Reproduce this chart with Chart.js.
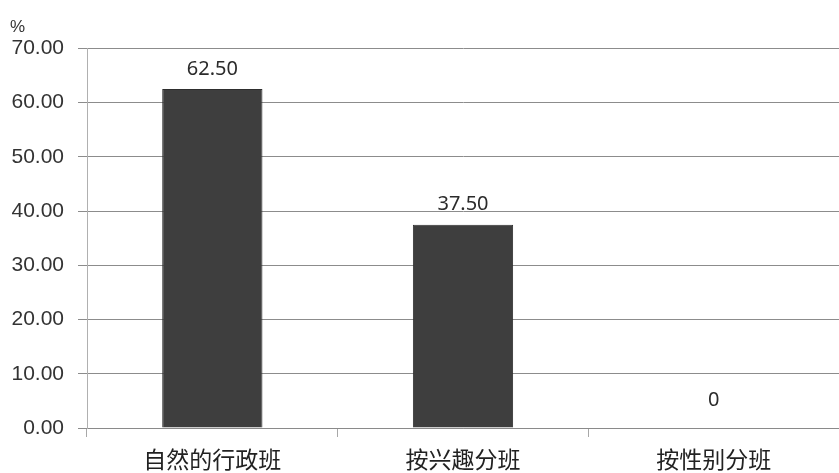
<!DOCTYPE html>
<html>
<head>
<meta charset="utf-8">
<script src="https://cdn.jsdelivr.net/npm/chart.js@4/dist/chart.umd.min.js"></script>
<style>
  html, body { margin: 0; padding: 0; background: #fff; }
  #wrap { width: 839px; height: 473px; }
</style>
</head>
<body>
<div id="wrap"><canvas id="barChart" width="839" height="473"></canvas></div>
<script>
// 📊 DATA
const categories = ["自然的行政班", "按兴趣分班", "按性别分班"];
const percentValues = [62.5, 37.5, 0];
const yMin = 0;
const yMax = 70;
const yStep = 10;

// 🏷️ VALUE LABELS ABOVE BARS
const valueLabels = {
  id: "valueLabels",
  afterDatasetsDraw(chart) {
    let ctx = chart.ctx;
    let meta = chart.getDatasetMeta(0);
    ctx.save();
    ctx.font = "20px 'Noto Sans', sans-serif";
    ctx.fillStyle = "#2b2b2b";
    ctx.textAlign = "center";
    ctx.textBaseline = "bottom";
    meta.data.forEach((bar, i) => {
      let v = percentValues[i];
      let txt = v === 0 ? "0" : v.toFixed(2);
      let gap = v === 0 ? 18 : 10;
      ctx.fillText(txt, bar.x, bar.y - gap);
    });
    ctx.restore();
  }
};

let ctx = document.getElementById("barChart").getContext("2d");

new Chart(ctx, {
  type: "bar",
  data: {
    labels: categories,
    datasets: [{
      data: percentValues,
      backgroundColor: "#3e3e3e",
      borderColor: "#2e2e2e",
      borderWidth: 1,
      categoryPercentage: 1,
      barPercentage: 0.4
    }]
  },
  options: {
    responsive: false,
    animation: false,
    devicePixelRatio: 1,
    layout: {
      padding: { left: 10, right: 0, top: 0, bottom: 0 }
    },
    plugins: {
      legend: { display: false },
      tooltip: { enabled: false },
      title: {
        display: true,
        text: "%",
        align: "start",
        color: "#333",
        font: { family: "'Liberation Sans', sans-serif", size: 17, weight: "normal" },
        padding: { top: 17, bottom: 11 }
      }
    },
    scales: {
      x: {
        afterFit(scale) { scale.height = 45; },
        grid: {
          offset: true,
          drawOnChartArea: false,
          tickLength: 9,
          color: "#a8a8a8"
        },
        border: { color: "#8a8a8a", width: 1 },
        ticks: {
          color: "#222",
          padding: 8,
          font: { family: "'Noto Sans CJK SC', sans-serif", size: 23 }
        }
      },
      y: {
        min: yMin,
        max: yMax,
        afterFit(scale) { scale.width = 77; },
        grid: {
          color: "#8c8c8c",
          tickLength: 9,
          lineWidth: 1
        },
        border: { color: "#b0b0b0", width: 1 },
        ticks: {
          stepSize: yStep,
          color: "#333",
          padding: 14,
          font: { family: "'Liberation Sans', sans-serif", size: 21 },
          callback: v => v.toFixed(2)
        }
      }
    }
  },
  plugins: [valueLabels]
});
</script>
</body>
</html>
